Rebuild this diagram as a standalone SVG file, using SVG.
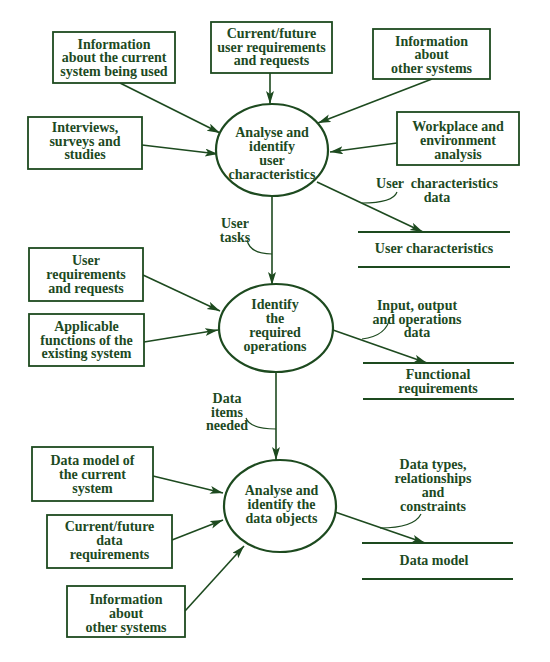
<svg xmlns="http://www.w3.org/2000/svg" width="550" height="662" viewBox="0 0 550 662">
<style>
text{font-family:"Liberation Serif","Times New Roman",serif;font-size:14px;font-weight:bold;fill:#1d4a1f;text-anchor:middle}
.box{fill:#fff;stroke:#1d4a1f;stroke-width:1.8}
.proc{fill:#fff;stroke:#1d4a1f;stroke-width:2.2}
.store{stroke:#1d4a1f;stroke-width:1.8}
.flow{fill:none;stroke:#1d4a1f;stroke-width:1.6;marker-end:url(#ah)}
.lead{fill:none;stroke:#1d4a1f;stroke-width:1.2}
</style>
<defs>
<marker id="ah" markerUnits="userSpaceOnUse" markerWidth="14" markerHeight="10" refX="13" refY="4" orient="auto">
<path d="M0,0 L13,4 L0,8 L3,4 z" fill="#1d4a1f"/>
</marker>
</defs>
<rect width="550" height="662" fill="#fff"/>
<g id="connectors">
<line class="flow" x1="120" y1="83" x2="220" y2="133"/>
<line class="flow" x1="142" y1="145" x2="218" y2="154"/>
<line class="flow" x1="270" y1="73" x2="270" y2="104"/>
<line class="flow" x1="432" y1="79" x2="318" y2="123"/>
<line class="flow" x1="397" y1="143" x2="330" y2="152"/>
<line class="flow" x1="317" y1="182" x2="423" y2="232"/>
<line class="flow" x1="272" y1="196" x2="272" y2="285"/>
<line class="flow" x1="143" y1="275" x2="220" y2="311"/>
<line class="flow" x1="144" y1="342" x2="218" y2="330"/>
<line class="flow" x1="333" y1="330" x2="427" y2="363"/>
<line class="flow" x1="276" y1="372" x2="276" y2="460"/>
<line class="flow" x1="153" y1="476" x2="223" y2="493"/>
<line class="flow" x1="172" y1="540" x2="223" y2="520"/>
<line class="flow" x1="185" y1="611" x2="244" y2="546"/>
<line class="flow" x1="335" y1="512" x2="425" y2="543"/>
<path class="lead" d="M397,192 Q393,203 362,203"/>
<path class="lead" d="M247,240 Q250,254 272,254"/>
<path class="lead" d="M390,317 Q387,336 362,339"/>
<path class="lead" d="M246,418 Q250,429 276,429"/>
<path class="lead" d="M421,514 Q414,528 380,528"/>
<text x="437" y="187.5" xml:space="preserve">User  characteristics</text>
<text x="437" y="201.5">data</text>
<text x="235" y="228">User</text>
<text x="235" y="242">tasks</text>
<text x="417" y="310">Input, output</text>
<text x="417" y="323.5">and operations</text>
<text x="417" y="337">data</text>
<text x="227" y="403">Data</text>
<text x="227" y="416.5">items</text>
<text x="227" y="430">needed</text>
<text x="433" y="469">Data types,</text>
<text x="433" y="483">relationships</text>
<text x="433" y="497">and</text>
<text x="433" y="511">constraints</text>
</g>
<g id="info-current">
<rect class="box" x="53" y="32" width="122" height="51"/>
<text x="114" y="48.5">Information</text>
<text x="114" y="62">about the current</text>
<text x="114" y="75.5">system being used</text>
</g>
<g id="interviews">
<rect class="box" x="28" y="117" width="114" height="52"/>
<text x="85" y="132">Interviews,</text>
<text x="85" y="145.5">surveys and</text>
<text x="85" y="159">studies</text>
</g>
<g id="current-future-user">
<rect class="box" x="211" y="22" width="121" height="51"/>
<text x="271.5" y="38">Current/future</text>
<text x="271.5" y="51.5">user requirements</text>
<text x="271.5" y="65">and requests</text>
</g>
<g id="info-other-1">
<rect class="box" x="373" y="29" width="117" height="50"/>
<text x="431.5" y="45.5">Information</text>
<text x="431.5" y="59">about</text>
<text x="431.5" y="72.5">other systems</text>
</g>
<g id="workplace">
<rect class="box" x="397" y="112" width="122" height="53"/>
<text x="458" y="131">Workplace and</text>
<text x="458" y="145">environment</text>
<text x="458" y="158.5">analysis</text>
</g>
<g id="proc-user">
<ellipse class="proc" cx="272" cy="150" rx="56" ry="46"/>
<text x="272" y="137">Analyse and</text>
<text x="272" y="151">identify</text>
<text x="272" y="165">user</text>
<text x="272" y="179">characteristics</text>
</g>
<g id="store-user">
<line class="store" x1="358" y1="232" x2="510" y2="232"/>
<line class="store" x1="358" y1="267" x2="510" y2="267"/>
<text x="434" y="252.5">User characteristics</text>
</g>
<g id="user-req">
<rect class="box" x="29" y="248" width="114" height="53"/>
<text x="86" y="265">User</text>
<text x="86" y="279">requirements</text>
<text x="86" y="292.5">and requests</text>
</g>
<g id="applicable">
<rect class="box" x="29" y="314" width="115" height="52"/>
<text x="86.5" y="331">Applicable</text>
<text x="86.5" y="344.5">functions of the</text>
<text x="86.5" y="358">existing system</text>
</g>
<g id="proc-ops">
<ellipse class="proc" cx="276" cy="328" rx="57" ry="44"/>
<text x="275" y="309">Identify</text>
<text x="275" y="323">the</text>
<text x="275" y="337">required</text>
<text x="275" y="351">operations</text>
</g>
<g id="store-func">
<line class="store" x1="363" y1="363" x2="514" y2="363"/>
<line class="store" x1="363" y1="399" x2="514" y2="399"/>
<text x="438" y="379">Functional</text>
<text x="438" y="392.5">requirements</text>
</g>
<g id="data-model-current">
<rect class="box" x="32" y="447" width="121" height="54"/>
<text x="92.5" y="465">Data model of</text>
<text x="92.5" y="479">the current</text>
<text x="92.5" y="492.5">system</text>
</g>
<g id="current-future-data">
<rect class="box" x="47" y="515" width="125" height="53"/>
<text x="109.5" y="531">Current/future</text>
<text x="109.5" y="544.5">data</text>
<text x="109.5" y="558.5">requirements</text>
</g>
<g id="info-other-2">
<rect class="box" x="67" y="586" width="118" height="51"/>
<text x="126" y="603.5">Information</text>
<text x="126" y="617.5">about</text>
<text x="126" y="631.5">other systems</text>
</g>
<g id="proc-data">
<ellipse class="proc" cx="280" cy="506" rx="56" ry="46"/>
<text x="281.5" y="495">Analyse and</text>
<text x="281.5" y="509">identify the</text>
<text x="281.5" y="523">data objects</text>
</g>
<g id="store-data">
<line class="store" x1="362" y1="543" x2="513" y2="543"/>
<line class="store" x1="362" y1="579" x2="513" y2="579"/>
<text x="434" y="565">Data model</text>
</g>
</svg>
